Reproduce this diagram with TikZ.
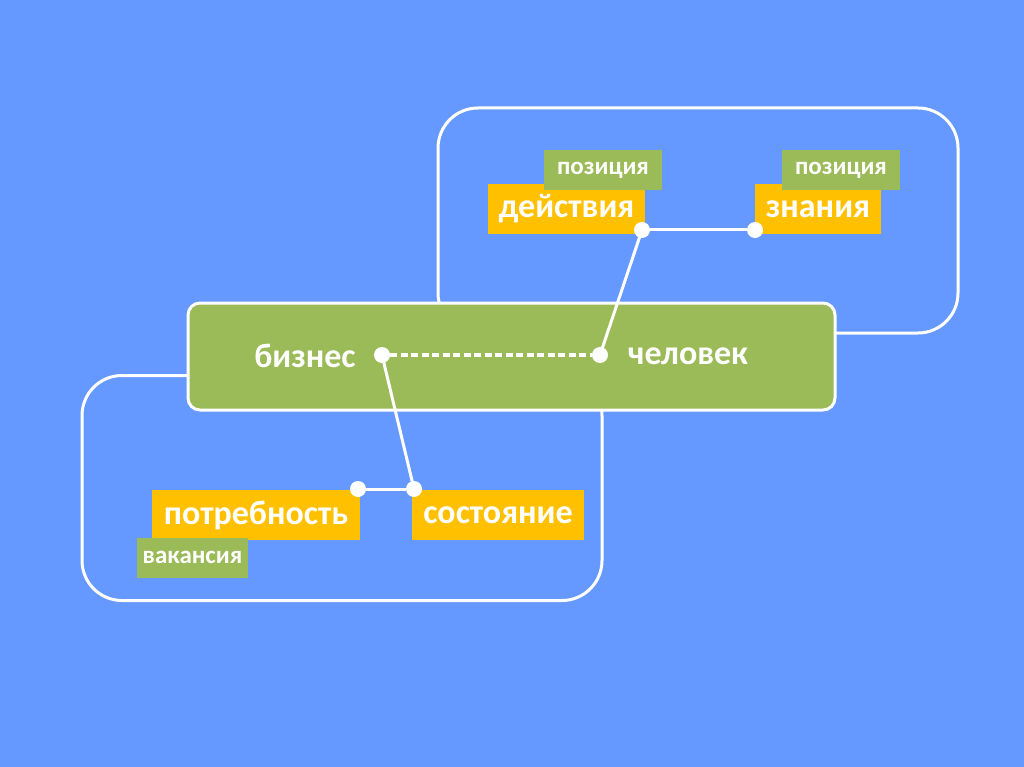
\documentclass[tikz,border=0pt]{standalone}
\usepackage{fontspec}
\setmainfont{Carlito}
\usetikzlibrary{positioning}
\definecolor{slideblue}{RGB}{102,153,255}
\definecolor{leafgreen}{RGB}{155,187,89}
\definecolor{amber}{RGB}{255,192,0}

\begin{document}
\begin{tikzpicture}[x=1pt, y=-1pt,
    frame/.style={draw=white, line width=3pt, rounded corners=40pt, fill=slideblue, minimum width=520pt, minimum height=225pt},
    bar/.style={draw=white, line width=3pt, rounded corners=12pt, fill=leafgreen, minimum width=647pt, minimum height=107pt},
    word/.style={text=white, font=\fontsize{34}{40}\selectfont\bfseries, inner sep=0pt},
    keybox/.style={fill=amber, text=white, font=\fontsize{34}{40}\selectfont\bfseries, minimum height=50pt, inner sep=0pt},
    tag/.style={fill=leafgreen, text=white, font=\fontsize{25}{30}\selectfont\bfseries, minimum height=40pt, inner sep=0pt},
    dot/.style={circle, fill=white, inner sep=0pt, minimum size=16pt},
    link/.style={white, line width=3pt}
]

  % Background
  \fill[slideblue] (0,0) rectangle (1024,767);
  \useasboundingbox (0,0) rectangle (1024,767);

  % Frames and the middle bar
  \node[frame] (top_frame) at (698,220.5) {};
  \node[frame] (bottom_frame) at (342,488) {};
  \node[bar] (middle_bar) at (511.5,356.5) {};

  \node[word] (business) at (305,356) {бизнес};
  \node[word] (person) at (688,356) {человек};

  % Top row: keys with their tags
  \node[keybox, minimum width=157pt] (actions) at (566.5,209) {действия};
  \node[tag, minimum width=118pt] (actions_tag) at (603,170) {позиция};
  \node[keybox, minimum width=126pt] (knowledge) at (818,209) {знания};
  \node[tag, minimum width=118pt] (knowledge_tag) at (841,170) {позиция};

  % Bottom row
  \node[keybox, minimum width=208pt] (need) at (256,515) {потребность};
  \node[tag, minimum width=111pt] (need_tag) at (192.5,557.5) {вакансия};
  \node[keybox, minimum width=172pt] (state) at (498,515) {состояние};

  % Connection points
  \node[dot] (business_pt) at (382,355) {};
  \node[dot] (person_pt) at (600,355) {};
  \node[dot] (actions_pt) at (642,230) {};
  \node[dot] (knowledge_pt) at (755,230) {};
  \node[dot] (need_pt) at (358,489) {};
  \node[dot] (state_pt) at (414,489) {};

  % Links
  \draw[white, line width=4.5pt, dash pattern=on 7pt off 3.5pt] (business_pt) -- (person_pt);
  \draw[link] (person_pt.center) -- (actions_pt.center);
  \draw[link] (actions_pt) -- (knowledge_pt);
  \draw[link] (business_pt.center) -- (state_pt.center);
  \draw[link] (need_pt) -- (state_pt);

\end{tikzpicture}
\end{document}
